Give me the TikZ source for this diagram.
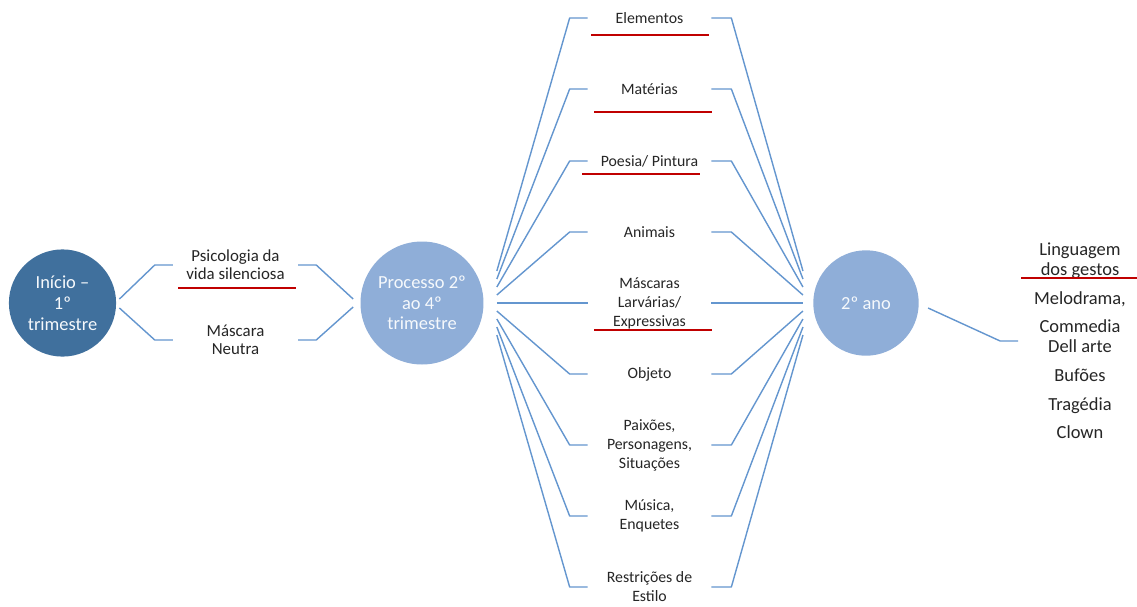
\documentclass[tikz,border=0pt]{standalone}
\usepackage{fontspec}
\setmainfont{Carlito}
\usetikzlibrary{calc, positioning}

\definecolor{darkphase}{RGB}{64,112,157}
\definecolor{lightphase}{RGB}{143,174,216}
\definecolor{linkblue}{RGB}{100,150,207}
\definecolor{markred}{RGB}{192,0,0}
\definecolor{textgray}{RGB}{38,38,38}

\tikzset{
  conn/.style={draw=linkblue, line width=0.8pt, line join=round},
  redline/.style={draw=markred, line width=1.2pt},
  phase/.style={circle, inner sep=0pt, align=center, text=white!92!lightphase,
    font=\fontsize{10.5}{11.8}\selectfont},
  item/.style={inner sep=0pt, minimum width=70pt, align=center, text=textgray,
    font=\fontsize{9}{10.8}\selectfont}
}

\begin{document}
\begin{tikzpicture}[x=0.02cm, y=-0.02cm]
  \path[use as bounding box, fill=white] (0,0) rectangle (1137,606);

  % circles
  \node[phase, fill=darkphase, minimum size=61pt] (inicio) at (62.5,303) {Início –\\1º\\trimestre};
  \node[phase, fill=lightphase, minimum size=70pt] (processo) at (422,303) {Processo 2º\\ao 4º\\trimestre};
  \node[phase, fill=lightphase, minimum size=60pt] (ano) at (866,303) {2º ano};

  % first branch
  \node[item, minimum width=71pt, font=\fontsize{9.6}{10.4}\selectfont] (psico) at (235.5,265) {Psicologia da\\vida silenciosa};
  \node[item, minimum width=71pt, font=\fontsize{9.6}{10.4}\selectfont] (neutra) at (235.5,340) {Máscara\\Neutra};

  % middle branch
  \node[item] (elementos) at (649.5,18) {Elementos};
  \node[item] (materias) at (649.5,89) {Matérias};
  \node[item] (poesia) at (649.5,161) {Poesia/ Pintura};
  \node[item] (animais) at (649.5,232) {Animais};
  \node[item] (mascaras) at (649.5,303) {Máscaras\\Larvárias/\\Expressivas};
  \node[item] (objeto) at (649.5,374) {Objeto};
  \node[item] (paixoes) at (649.5,445) {Paixões,\\Personagens,\\Situações};
  \node[item] (musica) at (649.5,516) {Música,\\Enquetes};
  \node[item] (restricoes) at (649.5,587) {Restrições de\\Estilo};

  % last branch
  \node[item, font=\fontsize{10.5}{11.3}\selectfont] (lista) at (1080,341)
    {Linguagem\\dos gestos\\[5pt]Melodrama,\\[5pt]Commedia\\Dell arte\\[5pt]Bufões\\[5pt]Tragédia\\[5pt]Clown};

  % connectors left
  \draw[conn] ($(inicio.east)+(3,-4)$) -- ($(psico.west)+(-18,0)$) -- (psico.west);
  \draw[conn] ($(inicio.east)+(3,5)$) -- ($(neutra.west)+(-18,0)$) -- (neutra.west);
  \draw[conn] (psico.east) -- ($(psico.east)+(18,0)$) -- ($(processo.west)+(-7,-4)$);
  \draw[conn] (neutra.east) -- ($(neutra.east)+(18,0)$) -- ($(processo.west)+(-7,4)$);

  % connectors middle, out of the circle
  \draw[conn] ($(processo.east)+(13,-32)$) -- ($(elementos.west)+(-18,0)$) -- (elementos.west);
  \draw[conn] ($(processo.east)+(13,-24)$) -- ($(materias.west)+(-18,0)$) -- (materias.west);
  \draw[conn] ($(processo.east)+(13,-16)$) -- ($(poesia.west)+(-18,0)$) -- (poesia.west);
  \draw[conn] ($(processo.east)+(13,-8)$) -- ($(animais.west)+(-18,0)$) -- (animais.west);
  \draw[conn] ($(processo.east)+(13,0)$) -- (mascaras.west);
  \draw[conn] ($(processo.east)+(13,8)$) -- ($(objeto.west)+(-18,0)$) -- (objeto.west);
  \draw[conn] ($(processo.east)+(13,16)$) -- ($(paixoes.west)+(-18,0)$) -- (paixoes.west);
  \draw[conn] ($(processo.east)+(13,24)$) -- ($(musica.west)+(-18,0)$) -- (musica.west);
  \draw[conn] ($(processo.east)+(13,32)$) -- ($(restricoes.west)+(-18,0)$) -- (restricoes.west);

  % connectors middle, into the circle
  \draw[conn] (elementos.east) -- ($(elementos.east)+(20,0)$) -- ($(ano.west)+(-10,-32)$);
  \draw[conn] (materias.east) -- ($(materias.east)+(20,0)$) -- ($(ano.west)+(-10,-24)$);
  \draw[conn] (poesia.east) -- ($(poesia.east)+(20,0)$) -- ($(ano.west)+(-10,-16)$);
  \draw[conn] (animais.east) -- ($(animais.east)+(20,0)$) -- ($(ano.west)+(-10,-8)$);
  \draw[conn] (mascaras.east) -- ($(ano.west)+(-10,0)$);
  \draw[conn] (objeto.east) -- ($(objeto.east)+(20,0)$) -- ($(ano.west)+(-10,8)$);
  \draw[conn] (paixoes.east) -- ($(paixoes.east)+(20,0)$) -- ($(ano.west)+(-10,16)$);
  \draw[conn] (musica.east) -- ($(musica.east)+(20,0)$) -- ($(ano.west)+(-10,24)$);
  \draw[conn] (restricoes.east) -- ($(restricoes.east)+(20,0)$) -- ($(ano.west)+(-10,32)$);

  % connector right
  \draw[conn] ($(ano.east)+(9,5)$) -- ($(lista.west)+(-18,0)$) -- (lista.west);

  % red marks
  \draw[redline] (591,35) -- (709,35);
  \draw[redline] (594,112) -- (712,112);
  \draw[redline] (582,174) -- (700,174);
  \draw[redline] (594,330) -- (712,330);
  \draw[redline] (178,288) -- (296,288);
  \draw[redline] (1021,278) -- (1137,278);
\end{tikzpicture}
\end{document}
